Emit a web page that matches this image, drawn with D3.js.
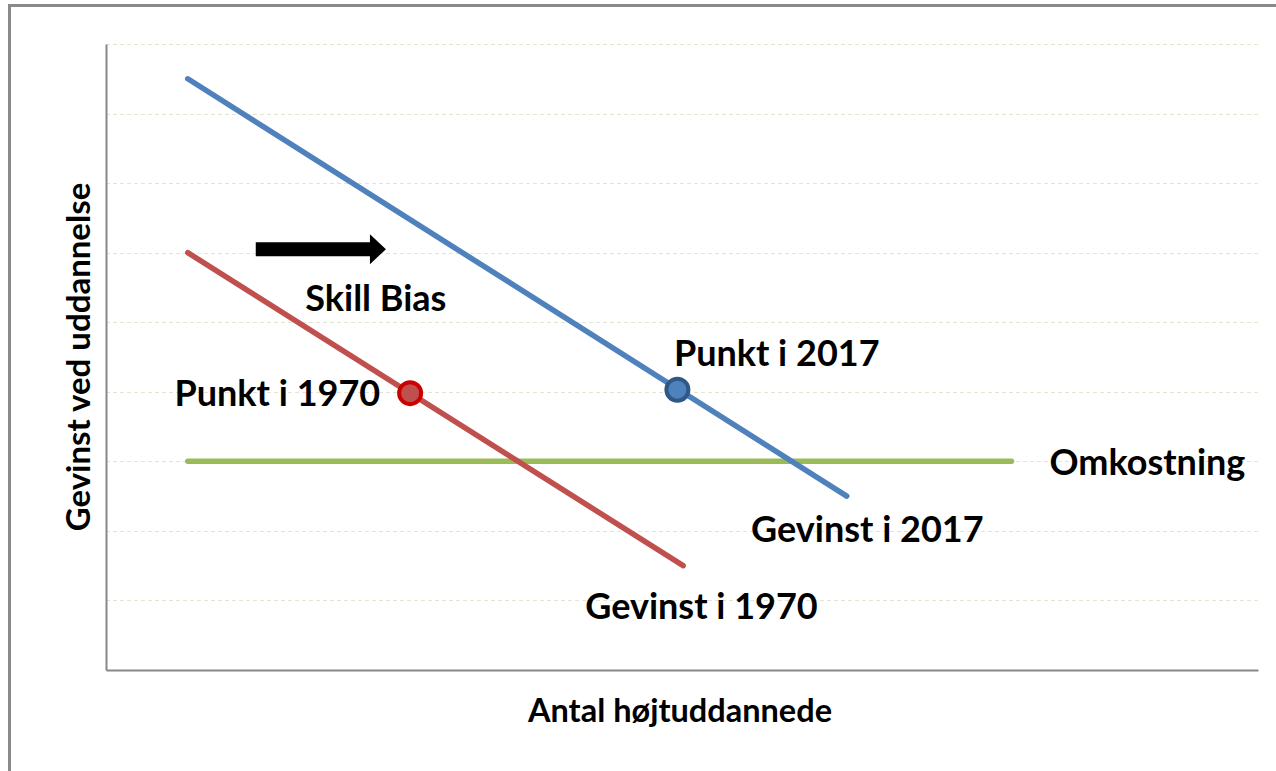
<!DOCTYPE html>
<html>
<head>
<meta charset="utf-8">
<script src="https://cdn.jsdelivr.net/npm/d3@7"></script>
<style>
  body { margin: 0; background: #fff; }
  text { font-family: Lato, "Open Sans", sans-serif; font-weight: bold; fill: #000; }
</style>
</head>
<body>
<div id="chart"></div>
<script>
// data (x: arbitrary units 0-100, y: gridline units 0-9)
const gevinst2017 = [[7.1, 8.5], [64.3, 2.5]]
const gevinst1970 = [[7.1, 6.0], [50.1, 1.5]]
const omkostning = [[7.1, 3.0], [78.6, 3.0]]
const punkt1970 = [26.4, 3.98]
const punkt2017 = [49.6, 4.03]
const skillArrow = [[13.0, 6.05], [24.3, 6.05]]
const yTicks = [0, 1, 2, 3, 4, 5, 6, 7, 8, 9]

const labels = [
    { text: 'Skill Bias', x: 17.3, y: 5.16, anchor: 'start' },
    { text: 'Punkt i 1970', x: 23.8, y: 3.8, anchor: 'end' },
    { text: 'Punkt i 2017', x: 49.3, y: 4.37, anchor: 'start' },
    { text: 'Gevinst i 2017', x: 56.0, y: 1.84, anchor: 'start' },
    { text: 'Gevinst i 1970', x: 41.6, y: 0.73, anchor: 'start' },
    { text: 'Omkostning', x: 81.9, y: 2.8, anchor: 'start' }
]

const width = 1276
const height = 771
const margin = { top: 44, right: 18, bottom: 101, left: 106 }

const svg = d3.select('#chart').append('svg')
    .attr('width', width)
    .attr('height', height)

// outer frame
svg.append('rect')
    .attr('x', 9.5).attr('y', 5.5)
    .attr('width', 1300).attr('height', 800)
    .attr('fill', 'none')
    .attr('stroke', '#8a8a8a')
    .attr('stroke-width', 3)

const x = d3.scaleLinear().domain([0, 100]).range([margin.left, width - margin.right])
const y = d3.scaleLinear().domain([0, 9]).range([height - margin.bottom, margin.top])

// gridlines
svg.append('g')
    .selectAll('line')
    .data(yTicks.filter(d => d > 0))
    .join('line')
    .attr('x1', x(0)).attr('x2', x(100))
    .attr('y1', d => Math.round(y(d)) + 0.5)
    .attr('y2', d => Math.round(y(d)) + 0.5)
    .attr('stroke', '#e4e4d4')
    .attr('stroke-dasharray', '4,3')

// axes
svg.append('g')
    .attr('transform', `translate(${x(0)},0)`)
    .call(d3.axisLeft(y).tickValues([]).tickSizeOuter(0))
svg.append('g')
    .attr('transform', `translate(0,${y(0)})`)
    .call(d3.axisBottom(x).tickValues([]).tickSizeOuter(0))
svg.selectAll('.domain').attr('stroke', '#888').attr('stroke-width', 2)

const line = d3.line().x(d => x(d[0])).y(d => y(d[1]))

const series = [
    { data: omkostning, color: '#9bbb59' },
    { data: gevinst1970, color: '#c0504d' },
    { data: gevinst2017, color: '#4f81bd' }
]

svg.append('g')
    .selectAll('path')
    .data(series)
    .join('path')
    .attr('d', d => line(d.data))
    .attr('fill', 'none')
    .attr('stroke', d => d.color)
    .attr('stroke-width', 5.5)
    .attr('stroke-linecap', 'round')

// points
const points = [
    { p: punkt1970, fill: '#c0504d', stroke: '#cc0000' },
    { p: punkt2017, fill: '#4f81bd', stroke: '#2f5888' }
]
svg.append('g')
    .selectAll('circle')
    .data(points)
    .join('circle')
    .attr('cx', d => x(d.p[0]))
    .attr('cy', d => y(d.p[1]))
    .attr('r', 11)
    .attr('fill', d => d.fill)
    .attr('stroke', d => d.stroke)
    .attr('stroke-width', 4)

// skill bias arrow
const ax0 = x(skillArrow[0][0])
const ax1 = x(skillArrow[1][0])
const ay = y(skillArrow[0][1])
svg.append('path')
    .attr('d', `M${ax0},${ay - 7}H${ax1 - 16}V${ay - 15}L${ax1},${ay}L${ax1 - 16},${ay + 15}V${ay + 7}H${ax0}Z`)
    .attr('fill', '#000')

// labels
svg.append('g')
    .selectAll('text')
    .data(labels)
    .join('text')
    .attr('x', d => x(d.x))
    .attr('y', d => y(d.y))
    .attr('text-anchor', d => d.anchor)
    .style('font-size', '36px')
    .text(d => d.text)

// axis titles
svg.append('text')
    .attr('x', (x(0) + x(100)) / 2 - 2)
    .attr('y', 722)
    .attr('text-anchor', 'middle')
    .style('font-size', '32.5px')
    .text('Antal højtuddannede')

svg.append('text')
    .attr('transform', `translate(90,${(y(0) + y(9)) / 2}) rotate(-90)`)
    .attr('text-anchor', 'middle')
    .style('font-size', '33px')
    .text('Gevinst ved uddannelse')
</script>
</body>
</html>
